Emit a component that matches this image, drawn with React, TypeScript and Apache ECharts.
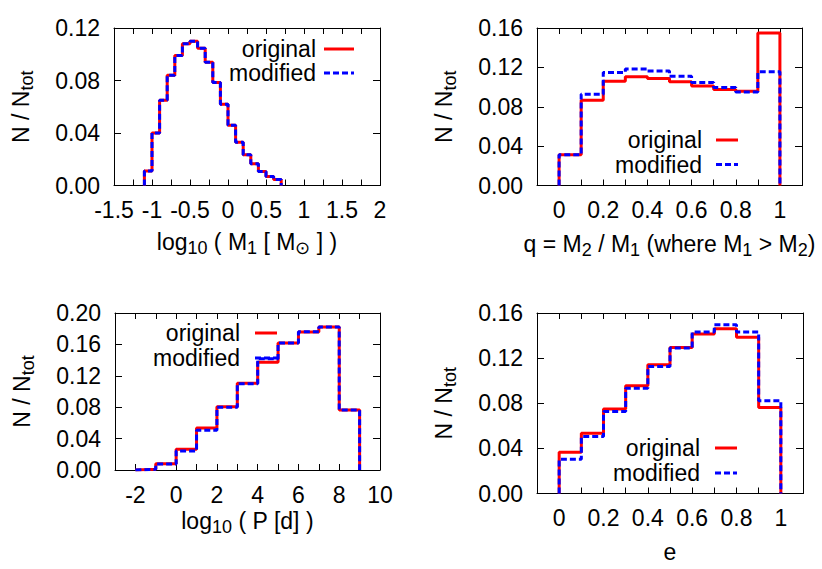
import React, { useEffect, useRef } from 'react';
import * as echarts from 'echarts';

// ---- Data ----
const m1Edges = [-1.1, -1.0, -0.9, -0.8, -0.7, -0.6, -0.5, -0.4, -0.3, -0.2, -0.1, 0.0, 0.1, 0.2, 0.3, 0.4, 0.5, 0.6, 0.7];
const m1Original = [0.011, 0.040, 0.065, 0.084, 0.099, 0.108, 0.110, 0.1045, 0.094, 0.0785, 0.062, 0.046, 0.033, 0.0235, 0.0166, 0.0107, 0.0069, 0.0046];
const m1Modified = [0.011, 0.040, 0.065, 0.084, 0.099, 0.108, 0.110, 0.1045, 0.094, 0.0785, 0.062, 0.046, 0.033, 0.0235, 0.0166, 0.0107, 0.0069, 0.0046];

const qEdges = [0, 0.1, 0.2, 0.3, 0.4, 0.5, 0.6, 0.7, 0.8, 0.9, 1.0];
const qOriginal = [0.0313, 0.0866, 0.106, 0.1104, 0.1087, 0.1053, 0.1012, 0.0975, 0.0958, 0.155];
const qModified = [0.0313, 0.0928, 0.1149, 0.1183, 0.1162, 0.1111, 0.1047, 0.0996, 0.0951, 0.1155];

const pEdges = [-2, -1, 0, 1, 2, 3, 4, 5, 6, 7, 8, 9];
const pOriginal = [0.0008, 0.0079, 0.0263, 0.0536, 0.0805, 0.1105, 0.1374, 0.1618, 0.1759, 0.1823, 0.0763];
const pModified = [0.0008, 0.0075, 0.0241, 0.0506, 0.0800, 0.1100, 0.1417, 0.1618, 0.1760, 0.1823, 0.0763];

const eEdges = [0, 0.1, 0.2, 0.3, 0.4, 0.5, 0.6, 0.7, 0.8, 0.9, 1.0];
const eOriginal = [0.0366, 0.0535, 0.0750, 0.0955, 0.1141, 0.1295, 0.1414, 0.1461, 0.1384, 0.0762];
const eModified = [0.0304, 0.0505, 0.0727, 0.0934, 0.1126, 0.1289, 0.1432, 0.1496, 0.1432, 0.0822];

const legendLabels = ['original', 'modified'];

const xNames = [
  '{m|log}{s|10}{m| ( M}{s|1}{m| [ M}{s|⊙}{m| ] )}',
  '{m|q = M}{s|2}{m| / M}{s|1}{m| (where M}{s|1}{m| > M}{s|2}{m|)}',
  '{m|log}{s|10}{m| ( P [d] )}',
  '{m|e}',
];
const yName = '{m|N / N}{s|tot}';

// ---- Helpers ----
const FONT = '"Liberation Sans", Arial, Helvetica, sans-serif';
const FS = 23;

function stepPoints(edges: number[], vals: number[]) {
  const pts: number[][] = [[edges[0], 0]];
  vals.forEach((v, i) => pts.push([edges[i], v]));
  pts.push([edges[edges.length - 1], 0]);
  return pts;
}

const rich = {
  m: { fontSize: FS, fontFamily: FONT, color: '#000', lineHeight: 30, verticalAlign: 'middle' },
  s: { fontSize: 18, fontFamily: FONT, color: '#000', lineHeight: 12, verticalAlign: 'bottom' },
};

const fmtHalf = (v: number) => {
  const t = Math.round(v * 4);
  return t % 2 === 0 ? String(Math.round(v * 100) / 100) : '';
};
const fmtFrac = (v: number) => {
  const t = Math.round(v * 10);
  return t % 2 === 0 && t >= 0 && t <= 10 ? String(t / 10) : '';
};
const fmtInt = (v: number) => {
  const t = Math.round(v);
  return t % 2 === 0 ? String(t) : '';
};
const fmtY = (v: number) => v.toFixed(2);

const grids = [
  { left: 114, top: 28, width: 266, height: 157.5 },
  { left: 537, top: 28, width: 265, height: 157.5 },
  { left: 115, top: 313, width: 265, height: 157 },
  { left: 537, top: 313, width: 266, height: 180.5 },
];

const xCfg = [
  { min: -1.5, max: 2, interval: 0.25, fmt: fmtHalf, gap: 41 },
  { min: -0.1, max: 1.1, interval: 0.1, fmt: fmtFrac, gap: 43 },
  { min: -3, max: 10, interval: 1, fmt: fmtInt, gap: 36 },
  { min: -0.1, max: 1.1, interval: 0.1, fmt: fmtFrac, gap: 43 },
];
const yCfg = [
  { max: 0.12 },
  { max: 0.16 },
  { max: 0.2 },
  { max: 0.16 },
];

const lineCol = '#000';

function buildOption() {
  const xAxis: any[] = [];
  const yAxis: any[] = [];
  grids.forEach((g, i) => {
    const xc = xCfg[i];
    const common = {
      type: 'value',
      gridIndex: i,
      min: xc.min,
      max: xc.max,
      interval: xc.interval,
      splitLine: { show: false },
      axisLine: { show: true, onZero: false, lineStyle: { color: lineCol, width: 1 } },
      axisTick: { show: true, inside: true, length: 6, lineStyle: { color: lineCol, width: 1 } },
    };
    xAxis.push({
      ...common,
      position: 'bottom',
      axisLabel: {
        show: true, margin: 13, color: '#000', fontSize: FS, fontFamily: FONT,
        formatter: xc.fmt, showMinLabel: true, showMaxLabel: true,
      },
      name: xNames[i],
      nameLocation: 'middle',
      nameGap: xc.gap,
      nameTextStyle: { rich },
    });
    xAxis.push({ ...common, position: 'top', axisLabel: { show: false } });

    const ycommon = {
      type: 'value',
      gridIndex: i,
      min: 0,
      max: yCfg[i].max,
      interval: 0.04,
      splitLine: { show: false },
      axisLine: { show: true, onZero: false, lineStyle: { color: lineCol, width: 1 } },
      axisTick: { show: true, inside: true, length: 7, lineStyle: { color: lineCol, width: 1 } },
    };
    yAxis.push({
      ...ycommon,
      position: 'left',
      axisLabel: {
        show: true, margin: 14, color: '#000', fontSize: FS, fontFamily: FONT,
        formatter: fmtY, showMinLabel: true, showMaxLabel: true,
      },
      name: yName,
      nameLocation: 'middle',
      nameRotate: 90,
      nameGap: 78,
      nameTextStyle: { rich },
    });
    yAxis.push({ ...ycommon, position: 'right', axisLabel: { show: false } });
  });

  const sets = [
    [m1Edges, m1Original, m1Modified],
    [qEdges, qOriginal, qModified],
    [pEdges, pOriginal, pModified],
    [eEdges, eOriginal, eModified],
  ];
  const series: any[] = [];
  sets.forEach(([edges, orig, mod], i) => {
    series.push({
      name: legendLabels[0],
      type: 'line',
      step: 'end',
      xAxisIndex: 2 * i,
      yAxisIndex: 2 * i,
      data: stepPoints(edges, orig),
      showSymbol: false,
      symbol: 'none',
      lineStyle: { color: '#ff0000', width: 3 },
      z: 3,
    });
    series.push({
      name: legendLabels[1],
      type: 'line',
      step: 'end',
      xAxisIndex: 2 * i,
      yAxisIndex: 2 * i,
      data: stepPoints(edges, mod),
      showSymbol: false,
      symbol: 'none',
      lineStyle: { color: '#0000ff', width: 3, type: [6, 3] },
      z: 4,
    });
  });

  // legends (gnuplot style: right-aligned text then sample)
  const legendPos = [
    { tx: 316, y1: 49, y2: 73, lx1: 324, lx2: 354 },
    { tx: 702, y1: 140, y2: 164.5, lx1: 716, lx2: 738 },
    { tx: 240, y1: 333, y2: 358, lx1: 255, lx2: 277 },
    { tx: 700, y1: 448, y2: 473, lx1: 715, lx2: 737 },
  ];
  const graphic: any[] = [];
  legendPos.forEach((p) => {
    [p.y1, p.y2].forEach((y, k) => {
      graphic.push({
        type: 'text',
        x: p.tx,
        y,
        style: {
          text: legendLabels[k],
          fill: '#000',
          font: `${FS}px ${FONT}`,
          align: 'right',
          verticalAlign: 'middle',
          textAlign: 'right',
          textVerticalAlign: 'middle',
        },
        z: 10,
      });
      graphic.push({
        type: 'line',
        shape: { x1: p.lx1, y1: y, x2: p.lx2, y2: y },
        style: k === 0
          ? { stroke: '#ff0000', lineWidth: 3 }
          : { stroke: '#0000ff', lineWidth: 3, lineDash: [6, 3] },
        z: 10,
      });
    });
  });

  return {
    animation: false,
    backgroundColor: '#fff',
    grid: grids.map((g) => ({ ...g, containLabel: false })),
    xAxis,
    yAxis,
    series,
    graphic,
  };
}

export default function App() {
  const ref = useRef<HTMLDivElement>(null);
  useEffect(() => {
    if (!ref.current) return;
    const chart = echarts.init(ref.current, undefined, { renderer: 'svg' });
    chart.setOption(buildOption() as any);
    return () => chart.dispose();
  }, []);
  return (
    <div
      ref={ref}
      style={{ position: 'fixed', left: 0, top: 0, width: 822, height: 569, background: '#fff' }}
    />
  );
}
